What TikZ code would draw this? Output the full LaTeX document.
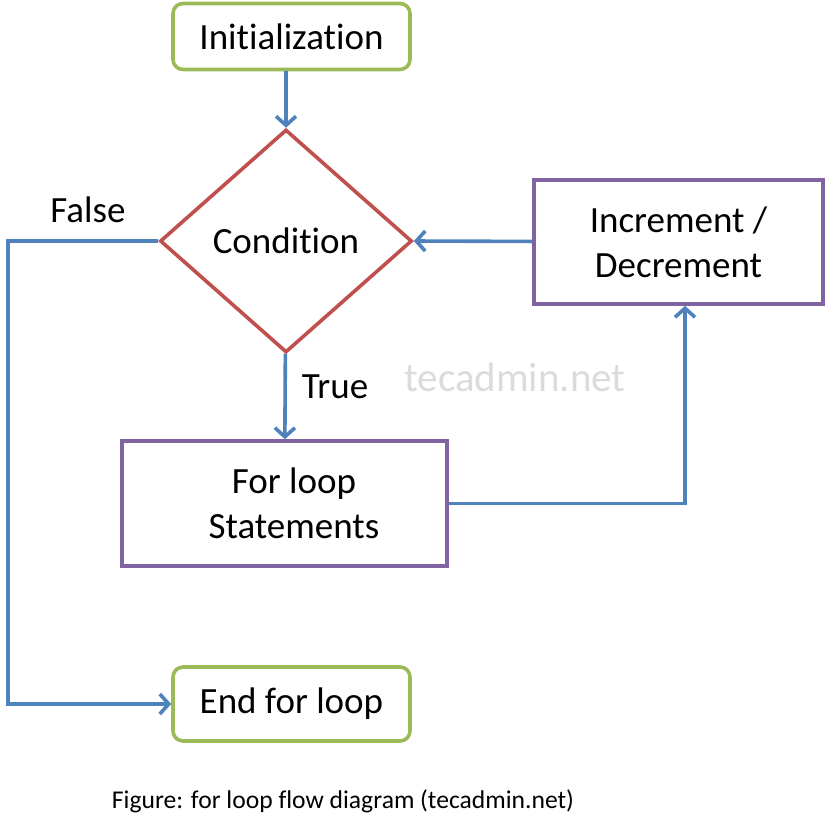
\documentclass[tikz,border=0pt]{standalone}
\usepackage{fontspec}
\setmainfont{Carlito}[Ligatures=NoCommon]
\usetikzlibrary{shapes.geometric,arrows.meta}

\definecolor{boxgreen}{HTML}{9BBB59}
\definecolor{boxred}{HTML}{C0504D}
\definecolor{boxpurple}{HTML}{8064A2}
\definecolor{flowblue}{HTML}{4F81BD}

\begin{document}
\begin{tikzpicture}[x=0.5pt,y=-0.5pt,
    every node/.style={font=\fontsize{18.5}{22.5}\selectfont},
    terminal/.style={draw=boxgreen,line width=1.8pt,rounded corners=5pt,minimum width=118.5pt,minimum height=33pt,inner sep=0pt},
    decision/.style={draw=boxred,line width=1.8pt,diamond,minimum width=126pt,minimum height=111.5pt,inner sep=0pt},
    process/.style={draw=boxpurple,line width=1.8pt,align=center,inner sep=0pt},
    flow/.style={draw=flowblue,line width=1.8pt,-{Straight Barb[length=4.5pt,width=10pt,line width=1.8pt]}}]
    \useasboundingbox (0,0) rectangle (826,826);

    \node[terminal] at (291.5,36.5) (Init) {Initialization};
    \node[decision] at (286,241) (Cond) {Condition};
    \node[process,minimum width=144.5pt,minimum height=62pt] at (678.5,242) (IncDec) {Increment /\\Decrement};
    \node[process,minimum width=162.5pt,minimum height=62.5pt] at (284.5,503.5) (Body) {\hspace{9.5pt}For loop\\\hspace{9.5pt}Statements};
    \node[terminal,minimum height=37pt] at (291.5,704) (End) {End for loop};

    \node at (335,387) (truelbl) {True};
    \node at (88,210) (falselbl) {False};
    \node[text=black!14,font=\fontsize{20.5}{24}\selectfont] at (515,377) (mark) {tecadmin.net};
    \node[font=\fontsize{12.8}{15}\selectfont] at (343,801) (caption) {Figure: for loop flow diagram (tecadmin.net)};

    \draw[flow] (Init.south -| Cond.north) to (Cond.north);
    \draw[flow] (Cond) to (Body);
    \draw[flow] (Body.east) -| ([xshift=3.25pt]IncDec.south);
    \draw[flow] (IncDec) to (Cond.east);
    \draw[flow] (Cond.west) -- ++(-150,0) |- (End.west);
  \end{tikzpicture}
\end{document}
